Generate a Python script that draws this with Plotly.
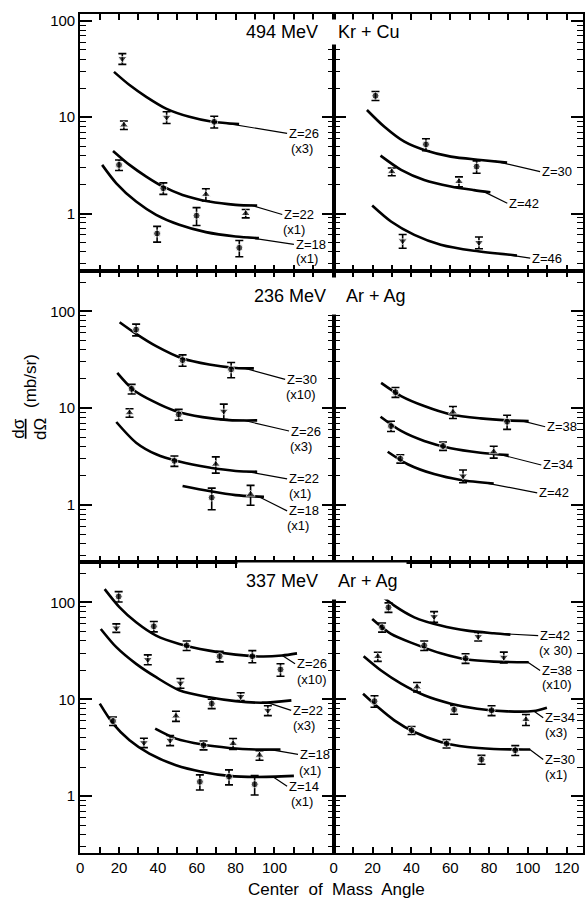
import math
import plotly.graph_objects as go

# ---------------- data ----------------
# detector codes for data points: c = filled circle, u = triangle up, d = triangle down

# Panel A : 494 MeV Kr + Cu (left column)
curves_A = {
    "Z=26": ([17.4, 25.4, 34.0, 44.2, 56.2, 68.1, 81.8],
             [29.6, 21.6, 16.3, 12.3, 10.1, 8.97, 8.5]),
    "Z=22": ([16.9, 25.4, 34.0, 42.5, 52.7, 66.4, 80.0, 91.1],
             [4.47, 3.2, 2.42, 1.91, 1.56, 1.33, 1.23, 1.21]),
    "Z=18": ([11.3, 18.6, 28.8, 39.1, 51.0, 64.7, 80.0, 92.0],
             [3.2, 2.06, 1.33, 0.97, 0.764, 0.641, 0.578, 0.555]),
}
points_A = {
    "Z=26": dict(theta=[21.7, 44.5, 69.0, 22.5], sigma=[40.6, 10.0, 8.97, 8.3],
                 err=[5.2, 1.4, 1.25, 0.85], det=["d", "d", "c", "u"]),
    "Z=22": dict(theta=[20.0, 42.8, 64.7, 85.2], sigma=[3.2, 1.83, 1.58, 1.0],
                 err=[0.4, 0.25, 0.23, 0.1], det=["c", "c", "u", "u"]),
    "Z=18": dict(theta=[39.6, 59.9, 81.9], sigma=[0.62, 0.95, 0.44],
                 err=[0.115, 0.2, 0.085], det=["c", "c", "c"]),
}

# Panel B : 494 MeV Kr + Cu (right column)
curves_B = {
    "Z=30": ([17.1, 26.1, 36.4, 46.6, 60.3, 75.6, 89.3],
             [11.9, 7.96, 5.57, 4.57, 3.9, 3.6, 3.38]),
    "Z=42": ([24.1, 34.7, 46.6, 60.3, 72.2, 80.7],
             [3.99, 2.84, 2.23, 1.91, 1.75, 1.66]),
    "Z=46": ([19.8, 29.5, 41.5, 55.1, 72.2, 94.4],
             [1.21, 0.826, 0.60, 0.474, 0.41, 0.367]),
}
points_B = {
    "Z=30": dict(theta=[21.5, 47.5, 73.6], sigma=[16.7, 5.23, 3.07],
                 err=[1.8, 0.75, 0.45], det=["c", "c", "c"]),
    "Z=42": dict(theta=[29.9, 64.5], sigma=[2.72, 2.15],
                 err=[0.25, 0.25], det=["u", "u"]),
    "Z=46": dict(theta=[35.5, 74.8], sigma=[0.52, 0.50],
                 err=[0.085, 0.07], det=["d", "d"]),
}

# Panel C : 236 MeV Ar + Ag (left column)
curves_C = {
    "Z=30": ([20.3, 28.8, 39.1, 52.7, 66.4, 80.0, 89.4],
             [77, 58.4, 43.6, 32.5, 28.2, 26.0, 25.7]),
    "Z=26": ([19.1, 27.1, 37.4, 49.3, 63.0, 76.7, 91.1],
             [23.1, 15.6, 11.8, 9.3, 8.07, 7.51, 7.46]),
    "Z=22": ([18.6, 28.8, 39.1, 51.0, 66.4, 80.0, 91.1],
             [7.18, 4.39, 3.33, 2.8, 2.43, 2.24, 2.2]),
    "Z=18": ([52.7, 66.4, 80.0, 94.6],
             [1.57, 1.39, 1.26, 1.21]),
}
points_C = {
    "Z=30": dict(theta=[28.8, 52.7, 77.7], sigma=[64.8, 31.3, 25.1],
                 err=[9.0, 4.2, 4.5], det=["c", "c", "c"]),
    "Z=26": dict(theta=[26.5, 50.7, 73.9], sigma=[15.8, 8.6, 9.3],
                 err=[1.8, 1.1, 1.7], det=["c", "c", "d"]),
    "Z=22": dict(theta=[25.4, 48.5, 69.8], sigma=[8.95, 2.85, 2.63],
                 err=[0.9, 0.35, 0.5], det=["u", "c", "u"]),
    "Z=18": dict(theta=[67.7, 87.7], sigma=[1.19, 1.29],
                 err=[0.3, 0.3], det=["c", "u"]),
}

# Panel D : 236 MeV Ar + Ag (right column)
curves_D = {
    "Z=38": ([24.4, 34.7, 46.6, 60.3, 75.6, 89.3, 100.4],
             [18.2, 13.3, 10.5, 8.6, 7.83, 7.47, 7.34]),
    "Z=34": ([24.1, 34.7, 46.6, 60.3, 75.6, 90.1],
             [8.13, 5.8, 4.57, 3.84, 3.46, 3.27]),
    "Z=42": ([27.8, 38.1, 51.7, 65.4, 82.4],
             [3.54, 2.63, 2.08, 1.81, 1.66]),
}
points_D = {
    "Z=38": dict(theta=[31.8, 61.4, 89.3], sigma=[14.6, 9.1, 7.23],
                 err=[1.7, 1.3, 1.2], det=["c", "u", "c"]),
    "Z=34": dict(theta=[29.5, 56.3, 82.4], sigma=[6.52, 4.06, 3.54],
                 err=[0.8, 0.4, 0.5], det=["c", "c", "u"]),
    "Z=42": dict(theta=[34.3, 66.6], sigma=[3.0, 1.99],
                 err=[0.3, 0.3], det=["c", "d"]),
}

# Panel E : 337 MeV Ar + Ag (left column)
curves_E = {
    "Z=26": ([12.6, 20.3, 28.8, 39.1, 51.0, 66.4, 80.0, 93.7, 103.9, 111.6],
             [137, 88.8, 62.3, 45.4, 37.3, 31.8, 28.9, 27.6, 28.3, 29.8]),
    "Z=22": ([10.6, 18.6, 28.8, 39.1, 51.0, 66.4, 80.0, 93.7, 108.7],
             [53.2, 34.5, 23.2, 16.9, 12.4, 10.5, 9.58, 9.23, 9.75]),
    "Z=18": ([38.6, 49.3, 63.0, 76.7, 90.3, 103.1],
             [4.98, 3.93, 3.41, 3.15, 3.03, 3.03]),
    "Z=14": ([10.1, 16.9, 25.4, 35.6, 49.3, 63.0, 76.7, 90.3, 110.0],
             [9.02, 5.61, 3.78, 2.75, 2.09, 1.78, 1.62, 1.58, 1.62]),
}
points_E = {
    "Z=26": dict(theta=[19.8, 37.9, 54.8, 71.8, 88.6, 103.1],
                 sigma=[115, 56.6, 35.9, 27.8, 27.8, 20.3],
                 err=[14, 7, 4, 3.5, 4, 3], det=["c", "c", "c", "c", "c", "c"]),
    "Z=22": dict(theta=[18.6, 34.8, 51.6, 67.7, 82.6, 96.6, 49.3],
                 sigma=[54.5, 25.7, 14.7, 9.02, 10.7, 7.69, 6.72],
                 err=[5.5, 3.0, 1.7, 1.0, 1.0, 0.9, 0.8],
                 det=["d", "d", "d", "c", "d", "d", "u"]),
    "Z=18": dict(theta=[46.3, 63.5, 78.7, 92.3], sigma=[3.78, 3.36, 3.49, 2.65],
                 err=[0.45, 0.35, 0.45, 0.3], det=["d", "c", "u", "u"]),
    "Z=14": dict(theta=[16.9, 32.8, 61.6, 76.6, 89.8], sigma=[5.97, 3.57, 1.41, 1.59, 1.33],
                 err=[0.6, 0.4, 0.25, 0.28, 0.3], det=["c", "d", "c", "c", "c"]),
}

# Panel F : 337 MeV Ar + Ag (right column)
curves_F = {
    "Z=42": ([22.4, 31.2, 41.5, 55.1, 68.8, 82.4, 91.0],
             [127, 92.5, 70.1, 57.6, 51.1, 48.0, 46.5]),
    "Z=38": ([19.8, 29.5, 41.5, 55.1, 68.8, 82.4, 100.4],
             [67.4, 47.3, 37.3, 29.8, 25.7, 24.5, 24.1]),
    "Z=34": ([15.4, 24.4, 34.7, 46.6, 60.3, 73.9, 89.3, 102.9, 109.8],
             [27.8, 19.8, 14.5, 11.0, 9.02, 8.0, 7.51, 7.57, 8.2]),
    "Z=30": ([15.1, 22.7, 31.2, 41.5, 55.1, 68.8, 82.4, 101.2],
             [11.4, 8.32, 6.07, 4.6, 3.63, 3.22, 3.07, 3.03]),
}
points_F = {
    "Z=42": dict(theta=[28.2, 51.7, 74.4], sigma=[88.8, 71.3, 44.4],
                 err=[10, 9, 4.5], det=["c", "d", "d"]),
    "Z=38": dict(theta=[24.9, 46.6, 67.9, 87.6], sigma=[55.3, 35.9, 26.5, 27.2],
                 err=[6, 4, 3, 3.5], det=["c", "c", "c", "d"]),
    "Z=34": dict(theta=[22.7, 42.9, 62.0, 81.3, 99.0], sigma=[27.6, 13.4, 7.82, 7.69, 6.17],
                 err=[3, 1.5, 0.8, 0.9, 0.8], det=["u", "u", "c", "c", "u"]),
    "Z=30": dict(theta=[21.0, 40.1, 58.1, 76.1, 93.5], sigma=[9.57, 4.79, 3.49, 2.39, 2.98],
                 err=[1.3, 0.45, 0.35, 0.25, 0.35], det=["c", "c", "c", "c", "c"]),
}

row_titles = ["494 MeV\u00a0\u00a0\u00a0\u00a0Kr + Cu",
              "236 MeV\u00a0\u00a0\u00a0\u00a0Ar + Ag",
              "337 MeV\u00a0\u00a0\u00a0\u00a0Ar + Ag"]
x_tick_vals = list(range(0, 140, 10))
y_major = [1, 10, 100]

# ---------------- figure ----------------
W, H = 586, 901
FONT = "Liberation Sans, Arial, sans-serif"

panels = [
    (curves_A, points_A, "x", "y"),
    (curves_B, points_B, "x2", "y2"),
    (curves_C, points_C, "x3", "y3"),
    (curves_D, points_D, "x4", "y4"),
    (curves_E, points_E, "x5", "y5"),
    (curves_F, points_F, "x6", "y6"),
]
sym_map = {"c": "circle", "u": "triangle-up", "d": "triangle-down"}

fig = go.Figure()
for curves, points, xa, ya in panels:
    for name, (th, sg) in curves.items():
        fig.add_trace(go.Scatter(x=th, y=sg, mode="lines", xaxis=xa, yaxis=ya,
                                 line=dict(color="black", width=2.6, shape="spline", smoothing=0.8),
                                 showlegend=False, hoverinfo="skip"))
    for name, p in points.items():
        fig.add_trace(go.Scatter(
            x=p["theta"], y=p["sigma"], mode="markers", xaxis=xa, yaxis=ya,
            marker=dict(color="black", size=[7 if d == "c" else 8 for d in p["det"]],
                        symbol=[sym_map[d] for d in p["det"]]),
            error_y=dict(type="data", array=p["err"], visible=True, color="black",
                         thickness=1.6, width=4),
            showlegend=False, name=name))

# pixel geometry of the panels
x_left = (76.7, 332.0)
x_right = (332.0, 583.0)
rows_px = [(12.0, 269.5), (269.5, 561.7), (561.7, 853.0)]
y_ranges = [(-0.596, 2.0725), (-0.595, 2.4175), (-0.587, 2.412)]
x_ranges = [(0, 130.5), (0, 128.4)]

minor_vals = []
for dec in [0.1, 1, 10, 100]:
    for k in range(2, 10):
        minor_vals.append(k * dec)

def xdom(a, b):
    return [a / W, b / W]

def ydom(top, bot):
    return [1 - bot / H, 1 - top / H]

layout = dict(width=W, height=H, margin=dict(l=0, r=0, t=0, b=0),
              paper_bgcolor="white", plot_bgcolor="white",
              font=dict(family=FONT, color="black", size=14), showlegend=False)

idx = 0
for r in range(3):
    for c in range(2):
        idx += 1
        sx = "" if idx == 1 else str(idx)
        xr = x_left if c == 0 else x_right
        bottom = (r == 2)
        ttext = []
        for v in x_tick_vals:
            if v % 20 == 0 and (c == 1 or v <= 100):
                ttext.append(str(v))
            else:
                ttext.append("")
        layout["xaxis" + sx] = dict(
            domain=xdom(*xr), anchor="y" + sx, range=list(x_ranges[c]),
            showline=True, linecolor="black", linewidth=2, mirror="allticks",
            ticks="inside", ticklen=6, tickwidth=1.5, tickcolor="black",
            tickvals=x_tick_vals, ticktext=ttext, showticklabels=bottom,
            tickfont=dict(size=15, family=FONT), showgrid=False, zeroline=False)
        layout["yaxis" + sx] = dict(
            domain=ydom(*rows_px[r]), anchor="x" + sx, type="log",
            range=list(y_ranges[r]),
            showline=True, linecolor="black", linewidth=2, mirror="allticks",
            ticks="inside", ticklen=12, tickwidth=1.5, tickcolor="black",
            tickvals=y_major, ticktext=[str(v) for v in y_major],
            showticklabels=(c == 0), tickfont=dict(size=15, family=FONT),
            minor=dict(tickvals=minor_vals, ticks="inside", ticklen=6,
                       tickwidth=1.2, tickcolor="black", showgrid=False),
            showgrid=False, zeroline=False)

annotations = []
# row titles (white box hides the divider behind the title)
title_pos = [(321, 30, 2), (328, 295, 8), (320, 580, 8)]
for t, (px, py, pad) in zip(row_titles, title_pos):
    annotations.append(dict(text=t, x=px / W, y=1 - py / H, xref="paper", yref="paper",
                            xanchor="center", yanchor="middle",
                            showarrow=False, font=dict(size=18, family=FONT),
                            bgcolor="white", borderpad=pad))

# curve labels: (axis suffix, line1, line2, head_x, head_log, tail_x, tail_log, line2_x, line2_log)
labels = [
    ("", "Z=26", "(x3)", 73, 0.944, 106.5, 0.832, 107.5, 0.677),
    ("", "Z=22", "(x1)", 88, 0.086, 104.0, -0.010, 103.4, -0.166),
    ("", "Z=18", "(x1)", 86, -0.248, 110.0, -0.321, 110.0, -0.466),
    ("2", "Z=30", None, 83, 0.544, 106.3, 0.435, 0, 0),
    ("2", "Z=42", None, 77, 0.230, 89.4, 0.107, 0, 0),
    ("2", "Z=46", None, 90, -0.430, 101.2, -0.463, 0, 0),
    ("3", "Z=30", "(x10)", 85, 1.41, 105.5, 1.296, 105.0, 1.141),
    ("3", "Z=26", "(x3)", 84, 0.874, 107.5, 0.763, 107.0, 0.598),
    ("3", "Z=22", "(x1)", 86, 0.344, 106.5, 0.268, 106.5, 0.113),
    ("3", "Z=18", "(x1)", 92, 0.083, 106.5, -0.062, 105.5, -0.216),
    ("4", "Z=38", None, 97, 0.868, 108.9, 0.807, 0, 0),
    ("4", "Z=34", None, 86, 0.519, 106.9, 0.412, 0, 0),
    ("4", "Z=42", None, 78, 0.228, 104.8, 0.124, 0, 0),
    ("5", "Z=26", "(x10)", 104, 1.452, 110.6, 1.366, 110.6, 1.201),
    ("5", "Z=22", "(x3)", 96, 0.968, 108.6, 0.885, 108.6, 0.731),
    ("5", "Z=18", "(x1)", 98, 0.481, 112.1, 0.432, 111.6, 0.268),
    ("5", "Z=14", "(x1)", 99, 0.204, 106.5, 0.103, 107.5, -0.059),
    ("6", "Z=42", "(x 30)", 85, 1.679, 105.3, 1.657, 104.8, 1.503),
    ("6", "Z=38", "(x10)", 100, 1.382, 106.3, 1.297, 106.3, 1.150),
    ("6", "Z=34", "(x3)", 103, 0.879, 107.9, 0.810, 107.9, 0.655),
    ("6", "Z=30", "(x1)", 101, 0.481, 107.9, 0.378, 107.9, 0.224),
]
for sx, l1, l2, hx, hy, tx, ty, l2x, l2y in labels:
    annotations.append(dict(text=l1, x=hx, y=hy, ax=tx, ay=ty,
                            xref="x" + sx, yref="y" + sx, axref="x" + sx, ayref="y" + sx,
                            xanchor="left", yanchor="middle", showarrow=True,
                            arrowhead=0, arrowwidth=1.2, arrowcolor="black",
                            standoff=0, startstandoff=0,
                            font=dict(size=13, family=FONT)))
    if l2:
        annotations.append(dict(text=l2, x=l2x, y=l2y, xref="x" + sx, yref="y" + sx,
                                xanchor="left", yanchor="middle", showarrow=False,
                                font=dict(size=13, family=FONT)))

# axis titles
annotations.append(dict(text="Center\u00a0 of\u00a0 Mass\u00a0 Angle", x=335 / W, y=1 - 889 / H,
                        xref="paper", yref="paper", xanchor="center", yanchor="middle",
                        showarrow=False, font=dict(size=17, family=FONT)))
annotations.append(dict(text='<span style="text-decoration:underline">d\u03c3</span><br>d\u03a9',
                        x=25 / W, y=1 - 428 / H, xref="paper", yref="paper",
                        xanchor="center", yanchor="middle",
                        showarrow=False, textangle=-90, font=dict(size=17, family=FONT)))
annotations.append(dict(text="(mb/sr)", x=26 / W, y=1 - 380 / H, xref="paper", yref="paper",
                        xanchor="center", yanchor="middle",
                        showarrow=False, textangle=-90, font=dict(size=17, family=FONT)))

layout["annotations"] = annotations
fig.update_layout(**layout)
fig.write_html("out.html")
